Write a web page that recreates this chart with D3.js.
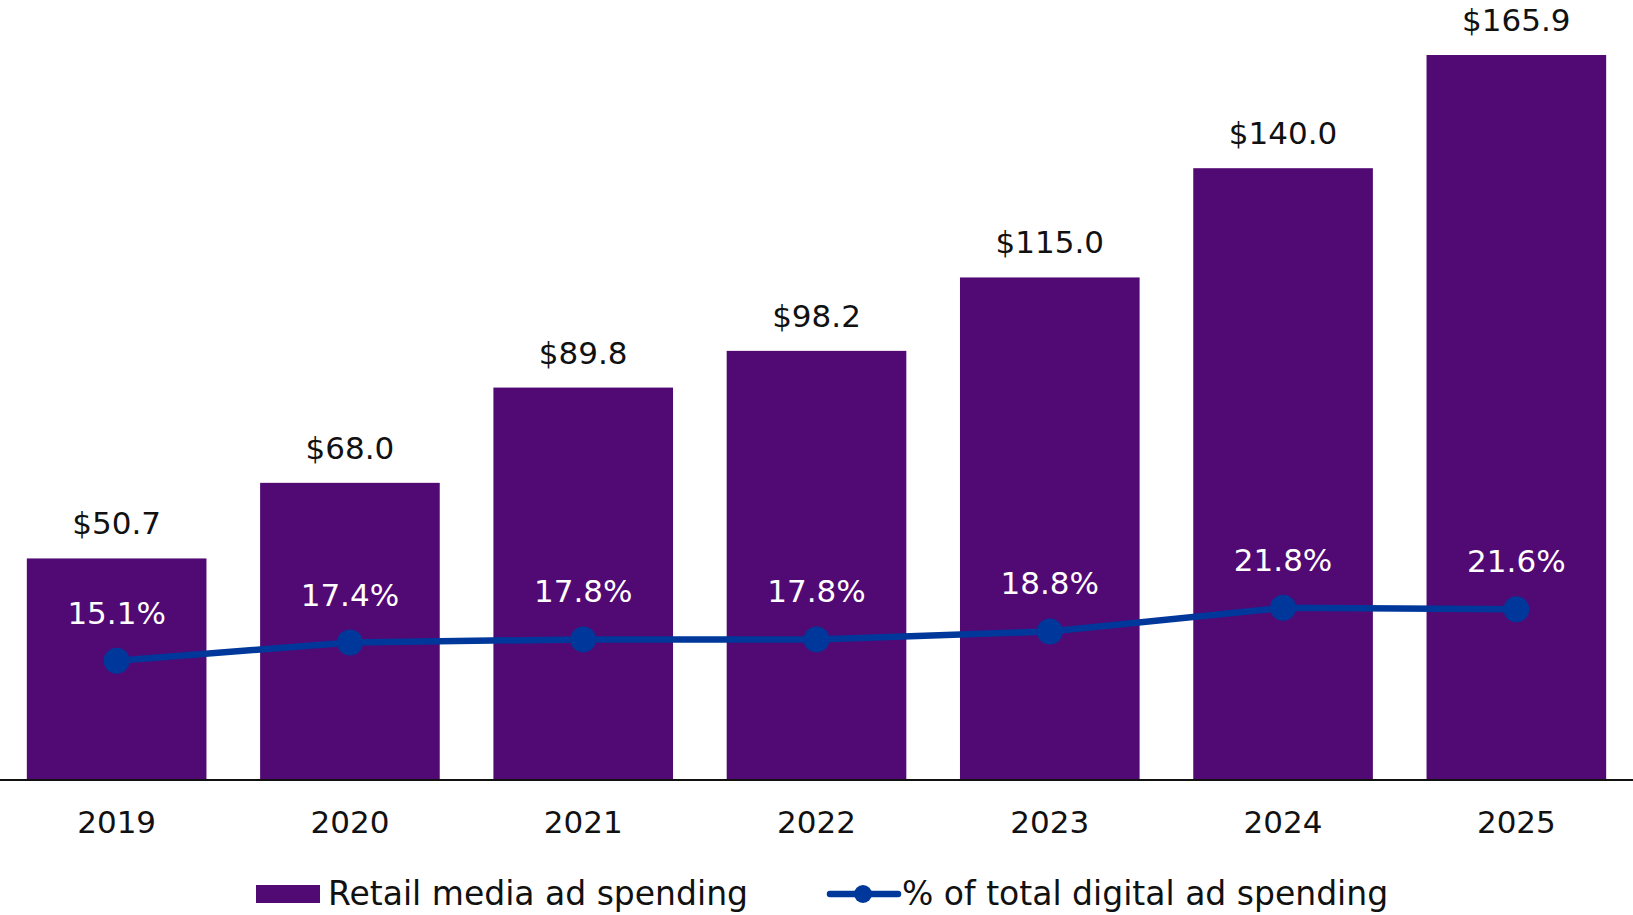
<!DOCTYPE html>
<html>
<head>
<meta charset="utf-8">
<script src="https://cdn.jsdelivr.net/npm/d3@7"></script>
<style>
  body { margin: 0; background: #fff; }
  svg { display: block; font-family: "DejaVu Sans", sans-serif; }
</style>
</head>
<body>
<div id="chart"></div>
<script>
const years = ["2019", "2020", "2021", "2022", "2023", "2024", "2025"];
const spending = [50.7, 68.0, 89.8, 98.2, 115.0, 140.0, 165.9];
const share = [15.1, 17.4, 17.8, 17.8, 18.8, 21.8, 21.6];
const seriesNames = ["Retail media ad spending", "% of total digital ad spending"];

const W = 1633, H = 915;
const barColor = "#510a73", lineColor = "#00379a";
const baseY = 780;

const svg = d3.select("#chart").append("svg")
    .attr("width", W)
    .attr("height", H);

// scales
const x = d3.scaleBand()
    .domain(years)
    .range([0, W])
    .paddingInner(0.23)
    .paddingOuter(0.115);
const y = d3.scaleLinear().domain([0, 170]).range([baseY, baseY - 170 * 4.37]);
const y2 = d3.scaleLinear().domain([0, 94]).range([baseY, baseY - 94 * 7.9]);

// bars
svg.selectAll(".bar")
    .data(years)
    .enter().append("rect")
    .attr("x", d => x(d))
    .attr("y", (d, i) => y(spending[i]))
    .attr("width", x.bandwidth())
    .attr("height", (d, i) => y(0) - y(spending[i]))
    .attr("fill", barColor);

// bar labels
svg.selectAll(".barLabel")
    .data(years)
    .enter().append("text")
    .attr("x", d => x(d) + x.bandwidth() / 2)
    .attr("y", (d, i) => y(spending[i]) - 24)
    .attr("text-anchor", "middle")
    .style("font-size", "31px")
    .style("fill", "#111")
    .text((d, i) => "$" + spending[i].toFixed(1));

// x axis
svg.append("g")
    .attr("transform", `translate(0,${baseY})`)
    .call(d3.axisBottom(x).tickSize(0).tickPadding(0))
    .call(g => g.select(".domain").attr("d", `M0,0H${W}`).attr("stroke", "#111").attr("stroke-width", 2))
    .call(g => g.selectAll("text")
        .attr("dy", null)
        .attr("y", 53)
        .style("font-size", "31px")
        .style("font-family", "DejaVu Sans, sans-serif")
        .style("fill", "#111"));

// line
const line = d3.line()
    .x((d, i) => x(years[i]) + x.bandwidth() / 2)
    .y(d => y2(d));

svg.append("path")
    .datum(share)
    .attr("fill", "none")
    .attr("stroke", lineColor)
    .attr("stroke-width", 6.5)
    .attr("d", line);

svg.selectAll(".dot")
    .data(share)
    .enter().append("circle")
    .attr("cx", (d, i) => x(years[i]) + x.bandwidth() / 2)
    .attr("cy", d => y2(d))
    .attr("r", 13)
    .attr("fill", lineColor);

svg.selectAll(".pctLabel")
    .data(share)
    .enter().append("text")
    .attr("x", (d, i) => x(years[i]) + x.bandwidth() / 2)
    .attr("y", d => y2(d) - 37)
    .attr("text-anchor", "middle")
    .style("font-size", "31px")
    .style("fill", "#fff")
    .text(d => d.toFixed(1) + "%");

// legend
const legend = svg.append("g");
legend.append("rect")
    .attr("x", 256).attr("y", 885)
    .attr("width", 64).attr("height", 18)
    .attr("fill", barColor);
legend.append("text")
    .attr("x", 328).attr("y", 905)
    .style("font-size", "33px")
    .style("fill", "#111")
    .text(seriesNames[0]);
legend.append("line")
    .attr("x1", 830).attr("x2", 898)
    .attr("y1", 894).attr("y2", 894)
    .attr("stroke", lineColor)
    .attr("stroke-width", 6.5)
    .attr("stroke-linecap", "round");
legend.append("circle")
    .attr("cx", 863).attr("cy", 894)
    .attr("r", 9)
    .attr("fill", lineColor);
legend.append("text")
    .attr("x", 902).attr("y", 905)
    .style("font-size", "33px")
    .style("fill", "#111")
    .text(seriesNames[1]);
</script>
</body>
</html>
